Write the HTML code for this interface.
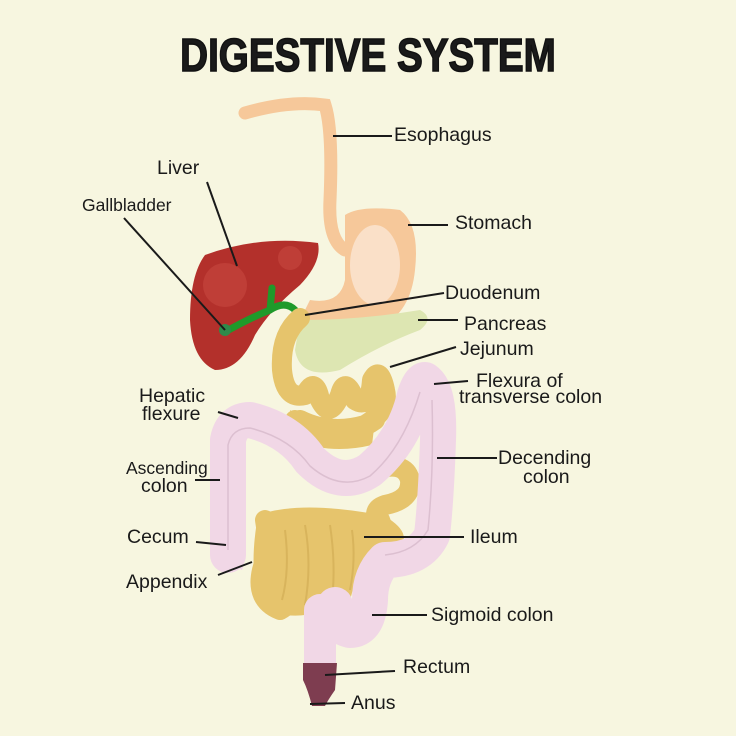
<!DOCTYPE html>
<html><head><meta charset="utf-8"><style>
html,body{margin:0;padding:0;background:#f7f6e0;}
svg{display:block}
text{font-family:"Liberation Sans",sans-serif;fill:#1a1a1a;font-size:19.5px}
</style></head><body>
<svg width="736" height="736" viewBox="0 0 736 736">
<rect width="736" height="736" fill="#f7f6e0"/>
<text x="368" y="71" text-anchor="middle" style="font-size:46px;font-weight:bold;stroke:#111;stroke-width:1.5px" transform="translate(368,0) scale(0.84,1) translate(-368,0)">DIGESTIVE SYSTEM</text>

<!-- esophagus -->
<path d="M245,113 Q290,100 325,105 Q333,130 330,200 Q328,240 345,250" fill="none" stroke="#f6c89a" stroke-width="13" stroke-linecap="round"/>
<!-- stomach -->
<path d="M345,215 Q360,205 400,210 Q420,225 415,270 Q410,320 370,330 Q330,340 300,320 L310,300 Q340,305 345,280 Z" fill="#f6c89a"/>
<ellipse cx="375" cy="265" rx="25" ry="40" fill="#fae0c8"/>
<!-- pancreas -->
<path d="M300,320 Q360,320 420,310 Q435,318 420,330 Q380,345 340,370 Q300,380 295,350 Z" fill="#dde6b2"/>
<!-- liver -->
<path d="M205,255 Q260,235 318,243 Q322,262 300,285 Q270,310 255,335 Q240,370 215,370 Q192,360 190,320 Q190,275 205,255 Z" fill="#b3302b"/>
<circle cx="225" cy="285" r="22" fill="#c4443d" opacity=".7"/>
<circle cx="290" cy="258" r="12" fill="#c4443d" opacity=".7"/>
<!-- gallbladder -->
<path d="M225,332 Q250,318 270,310 Q285,300 295,310 M270,310 L272,288" fill="none" stroke="#1f9a2a" stroke-width="7" stroke-linecap="round"/>
<circle cx="225" cy="330" r="6" fill="#2e8a4a"/>

<!-- upper small intestine -->
<g fill="none" stroke="#e6c46c" stroke-width="20" stroke-linecap="round" stroke-linejoin="round">
<path d="M300,318 Q280,335 282,370 Q285,400 305,395 Q315,375 320,400 Q330,420 340,395 Q345,375 355,400 Q370,410 372,380 Q380,365 385,390 Q390,410 365,425 Q330,435 300,420"/>
<path d="M295,420 Q340,445 375,420"/>
<path d="M265,520 Q270,545 262,570 Q255,600 280,610 Q300,600 290,570 Q285,530 300,520 Q315,545 310,580 Q305,610 320,600 Q330,560 325,525 Q340,515 342,560 Q345,600 360,560 Q360,520 380,520 Q390,545 370,540"/>
<path d="M375,470 Q405,460 410,480 Q412,500 385,505 Q370,510 380,525 Q405,540 385,545"/>
</g>
<path d="M258,515 Q300,500 380,515 L385,545 Q360,560 350,600 Q300,625 270,610 Q245,590 258,515 Z" fill="#e6c46c"/>
<path d="M290,410 Q330,440 375,420 L372,445 Q330,455 295,440 Z" fill="#e6c46c"/>
<g fill="none" stroke="#d8b45c" stroke-width="2">
<path d="M285,530 Q290,570 282,600 M305,525 Q312,565 305,605 M330,525 Q336,565 332,600 M352,530 Q356,560 350,590"/>
</g>

<!-- colon -->
<g fill="none" stroke="#f1d7e6" stroke-linecap="round" stroke-linejoin="round">
<path d="M228,555 L228,440 Q232,420 250,420 Q290,430 310,460 Q340,490 370,470 Q405,440 415,395 Q420,380 425,380 Q440,390 438,440 Q436,500 432,535 Q420,560 385,560 Q370,575 370,600 Q368,630 350,630 Q330,625 335,605" stroke-width="36"/>
<path d="M320,610 L320,665" stroke-width="32"/>
</g>
<g fill="none" stroke="#dcbfd0" stroke-width="1.5">
<path d="M228,550 L228,445 Q232,428 250,428 Q290,438 310,466 Q340,492 370,476 Q403,448 420,392 M432,400 Q434,470 428,530 Q415,552 385,555"/>
</g>
<path d="M218,560 Q232,545 245,560 L242,570 Z" fill="#f1d7e6"/>
<!-- rectum -->
<path d="M303,663 L337,663 L335,690 Q328,700 325,706 L312,706 Q308,690 303,680 Z" fill="#7e3d50"/>

<!-- leader lines -->
<g stroke="#1a1a1a" stroke-width="2" fill="none">
<path d="M333,136 L392,136"/>
<path d="M408,225 L448,225"/>
<path d="M207,182 L237,266"/>
<path d="M124,218 L225,330"/>
<path d="M305,315 L444,293"/>
<path d="M418,320 L458,320"/>
<path d="M390,367 L456,347"/>
<path d="M434,384 L468,381"/>
<path d="M218,412 L238,418"/>
<path d="M437,458 L497,458"/>
<path d="M195,480 L220,480"/>
<path d="M364,537 L464,537"/>
<path d="M196,542 L226,545"/>
<path d="M218,575 L252,562"/>
<path d="M372,615 L427,615"/>
<path d="M325,675 L395,671"/>
<path d="M310,704 L345,703"/>
</g>

<text x="394" y="141">Esophagus</text>
<text x="455" y="229">Stomach</text>
<text x="157" y="174">Liver</text>
<text x="82" y="211" style="font-size:17.5px">Gallbladder</text>
<text x="445" y="299">Duodenum</text>
<text x="464" y="330">Pancreas</text>
<text x="460" y="355">Jejunum</text>
<text x="476" y="387">Flexura of</text>
<text x="459" y="403">transverse colon</text>
<text x="139" y="402">Hepatic</text>
<text x="142" y="420">flexure</text>
<text x="498" y="464">Decending</text>
<text x="523" y="483">colon</text>
<text x="126" y="474" style="font-size:17.5px">Ascending</text>
<text x="141" y="492">colon</text>
<text x="127" y="543">Cecum</text>
<text x="470" y="543">Ileum</text>
<text x="126" y="588">Appendix</text>
<text x="431" y="621">Sigmoid colon</text>
<text x="403" y="673">Rectum</text>
<text x="351" y="709">Anus</text>
</svg>
</body></html>
